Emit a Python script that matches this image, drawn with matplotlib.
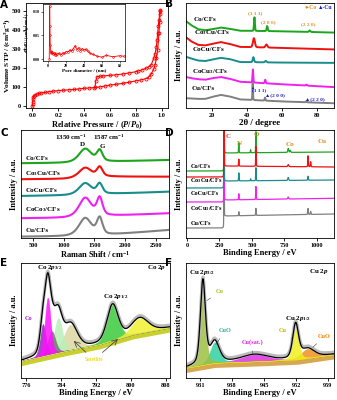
import numpy as np
import matplotlib
matplotlib.use('Agg')
import matplotlib.pyplot as plt

plt.rcParams['font.family'] = ['Liberation Serif', 'DejaVu Sans']
plt.rcParams['font.weight'] = 'bold'
plt.rcParams['axes.labelweight'] = 'bold'
plt.rcParams['mathtext.fontset'] = 'custom'
plt.rcParams['mathtext.rm'] = 'Liberation Serif:bold'
plt.rcParams['mathtext.it'] = 'Liberation Serif:italic:bold'
plt.rcParams['mathtext.bf'] = 'Liberation Serif:bold'
plt.rcParams['axes.linewidth'] = 0.6

# ---------------- data ----------------
samples = ['Co/CFs', 'Co$_3$Cu/CFs', 'CoCu/CFs', 'CoCu$_3$/CFs', 'Cu/CFs']
raman_labels = ['Co/CFs', 'Co$_3$Cu/CFs', 'CoCu/CFs', 'CoCo$_3$/CFs', 'Cu/CFs']
colors = ['#1DA51D', '#F01010', '#1A8C8C', '#F020F0', '#808080']

# A: N2 isotherm
p_ads = [0.0, 0.001, 0.002, 0.004, 0.007, 0.01, 0.02, 0.035, 0.05, 0.07, 0.1, 0.13, 0.16, 0.2,
         0.24, 0.28, 0.32, 0.36, 0.4, 0.44, 0.48, 0.52, 0.56, 0.6, 0.65, 0.7, 0.75, 0.8, 0.84,
         0.88, 0.9, 0.92, 0.94, 0.95, 0.96, 0.97, 0.98, 0.985, 0.99]
v_ads = [0, 10, 22, 35, 47, 55, 60, 63, 66, 69, 72, 75, 78, 81, 83, 85, 87, 90, 93, 95, 97,
         100, 105, 110, 114, 119, 125, 132, 137, 144, 152, 168, 195, 216, 250, 295, 382, 440, 500]
p_des = [0.99, 0.985, 0.98, 0.975, 0.97, 0.965, 0.96, 0.95, 0.94, 0.92, 0.9, 0.88, 0.85, 0.82,
         0.8, 0.75, 0.7, 0.65, 0.6, 0.55, 0.52, 0.5, 0.49, 0.485]
v_des = [505, 480, 452, 420, 382, 345, 312, 275, 251, 216, 205, 198, 190, 184, 180, 174, 168,
         164, 161, 158, 156, 154, 130, 100]
pore_d = [1.0, 1.3, 1.5, 1.8, 2.1, 2.6, 3.0, 3.5, 4, 5, 6, 7, 8, 9, 10, 12, 14, 16, 18, 20, 22,
          24, 26, 28, 30, 32, 34, 36, 38, 40, 42, 44, 47, 50, 55, 60, 65, 72, 80, 85]
pore_v = [0.0, 0.05, 0.112, 0.07, 0.03, 0.018, 0.014, 0.012, 0.016, 0.010, 0.013, 0.009, 0.012,
          0.008, 0.011, 0.012, 0.009, 0.013, 0.012, 0.016, 0.015, 0.019, 0.017, 0.022, 0.028,
          0.020, 0.024, 0.018, 0.022, 0.019, 0.021, 0.017, 0.012, 0.010, 0.006, 0.004, 0.008,
          0.005, 0.007, 0.006]

# B: XRD (baseline points and peaks: position, height, fwhm)
xrd_base_x = [5, 8, 12, 16, 20, 25, 30, 36, 60, 90]
xrd_base = [
    [86, 82, 78, 77, 78, 79.7, 78.5, 76.5, 76, 74.7],
    [70, 66, 62.5, 62, 63.5, 65.3, 63.5, 60.5, 59.5, 58],
    [50.7, 49, 47, 46.5, 48, 49.7, 48.5, 45.5, 45, 44.7],
    [30.7, 29.5, 28.5, 28, 29.5, 30.7, 29, 26, 23.5, 20.7],
    [9.7, 9.5, 9, 9, 11, 13, 11.5, 8.5, 6.5, 4.7],
]
xrd_peaks = [
    [(44.3, 13.5, 0.6), (51.6, 5, 0.7), (76.0, 1.5, 0.9)],
    [(44.0, 9, 1.3), (51.2, 3, 1.3)],
    [(43.7, 5, 0.9), (50.8, 1.5, 1.0)],
    [(43.4, 13, 0.5), (50.5, 3.5, 0.6), (74.2, 1, 0.8)],
    [(43.3, 17, 0.4), (50.4, 3, 0.5), (74.1, 1, 0.7)],
]

# C: Raman (baseline at x points, D and G amplitudes)
raman_base_x = [300, 1000, 1700, 2720]
raman_base = [
    [74.7, 75, 76.3, 78],
    [58.7, 59, 61.3, 61.3],
    [42, 42.5, 44, 46.3],
    [19.7, 20, 22, 24.7],
    [1.3, 1.6, 3, 8],
]
raman_D = [13.5, 10, 11.5, 19, 17.5]
raman_G = [11, 9.5, 10, 17.5, 16.5]
raman_pos = [1350, 1587]

# D: XPS survey
xps_left = [67, 61, 50, 36, 10]
xps_after = [85, 72, 57, 38, 22]
xps_right = [86, 71, 58, 39.7, 24]
xps_peaks = [
    [(399, 10, 4), (531, 21, 4), (490, 3, 4), (780, 4, 8), (796, 2, 8)],
    [(399, 7, 4), (531, 20, 4), (780, 2, 8), (933, 11, 5), (953, 5, 5)],
    [(399, 8, 4), (531, 13, 4), (490, 2, 4), (780, 3, 8), (933, 4, 5)],
    [(399, 6, 4), (531, 13, 4), (780, 2, 8)],
    [(399, 4, 4), (531, 7, 4), (933, 6, 5), (953, 3, 5)],
]

# E: Co 2p
e_base_x = [774.9, 785.2, 792.9, 800.5, 808.9]
e_base_y = [14.7, 23.5, 29.4, 38, 44]
e_comp = [(779.9, 28, 1.5), (781.0, 50, 1.5), (781.9, 20, 2.0), (783.4, 30, 2.2),
          (786.2, 22, 3.6), (795.8, 31, 3.0), (802.0, 13, 4.5)]
e_colors = ['#A020C0', '#FF10FF', '#6B7B6B', '#B8F0B8', '#DCD8A0', '#3CCB3C', '#F2F230']

# F: Cu 2p
f_base_x = [927.9, 934.3, 945.2, 952.4, 960.3]
f_base_y = [8.8, 13.2, 14.7, 16, 20.6]
f_comp = [(931.6, 73, 1.3), (934.2, 18, 2.4), (943.0, 6, 7), (951.9, 30, 1.5), (954.5, 8, 3.5)]
f_colors = ['#9CC040', '#30D0A0', '#E030E0', '#F0F020', '#F09020']


def pv(x, c, h, w, eta=0.35):
    g = np.exp(-4 * np.log(2) * ((x - c) / w) ** 2)
    l = 1 / (1 + (2 * (x - c) / w) ** 2)
    return h * (eta * l + (1 - eta) * g)


fig = plt.figure(figsize=(3.37, 4.0), dpi=100)


def rect(l, t, r, b):
    return [l / 337, 1 - b / 400, (r - l) / 337, (b - t) / 400]


TS = 4.5
LS = 6


def style(ax):
    ax.tick_params(direction='out', length=2, width=0.6, labelsize=TS, pad=1.5)
    for lab in ax.get_xticklabels() + ax.get_yticklabels():
        lab.set_fontweight('bold')


# ---------- A ----------
axA = fig.add_axes(rect(26, 3, 168, 108))
axA.plot(p_ads, v_ads, '-o', color='#FF0000', lw=0.8, ms=2.2, mfc='none', mec='#FF0000', mew=0.6)
axA.plot(p_des, v_des, '-o', color='#FF0000', lw=0.8, ms=2.2, mfc='none', mec='#FF0000', mew=0.6)
axA.set_xlim(-0.05, 1.05)
axA.set_ylim(-10, 540)
axA.set_xticks([0, 0.2, 0.4, 0.6, 0.8, 1.0])
axA.set_yticks([0, 100, 200, 300, 400, 500])
axA.set_xlabel('Relative Pressure / ($P/P_0$)', fontsize=LS, labelpad=1)
axA.set_ylabel('Volume STP / (cm$^3$g$^{-1}$)', fontsize=5.4)
axA.yaxis.set_label_coords(-0.098, 0.5)
style(axA)

axI = fig.add_axes(rect(43, 4, 125, 61))
axI.plot(pore_d, pore_v, '-o', color='#FF0000', lw=0.6, ms=1.3, mfc='none', mec='#FF0000', mew=0.4)
axI.set_xlim(-6, 86)
axI.set_ylim(-0.004, 0.116)
axI.set_xticks([0, 20, 40, 60, 80])
axI.set_yticks([0.0, 0.05, 0.10])
axI.set_yticklabels(['0.00', '0.05', '0.10'])
axI.tick_params(direction='out', length=1.2, width=0.4, labelsize=3, pad=0.8)
axI.set_xlabel('Pore diameter / (nm)', fontsize=3.6, labelpad=0.5)
axI.set_ylabel('dV/dD / (cm$^3$g$^{-1}$nm$^{-1}$)', fontsize=3, labelpad=0.5)
for s in axI.spines.values():
    s.set_linewidth(0.5)

# ---------- B ----------
axB = fig.add_axes(rect(186, 3, 334, 108))
xb = np.linspace(5, 90, 1500)
for i in range(5):
    y = np.interp(xb, xrd_base_x, xrd_base[i])
    for c, h, w in xrd_peaks[i]:
        y = y + pv(xb, c, h, w, 0.2)
    axB.plot(xb, y, color=colors[i], lw=1.4)
axB.set_xlim(5, 90)
axB.set_ylim(0, 104)
axB.set_xticks([20, 40, 60, 80])
axB.set_yticks([])
axB.set_xlabel('2θ / degree', fontsize=LS + 0.5, labelpad=1)
axB.set_ylabel('Intensity / a.u.', fontsize=LS, labelpad=2)
style(axB)
b_lab_xy = [(15.9, 87.3), (19.8, 74.7), (17.8, 58), (18.8, 36.3), (14.9, 19.7)]
for (x, y), t in zip(b_lab_xy, samples):
    axB.text(x, y, t, fontsize=5, ha='center', va='center')
orange = '#E08A1E'
blue = '#1818C8'
axB.text(44.6, 94, '(1 1 1)', fontsize=3.8, color=orange, ha='center', va='center')
axB.text(52.3, 85.3, '(2 0 0)', fontsize=3.8, color=orange, ha='center', va='center')
axB.text(75.2, 83, '(2 2 0)', fontsize=3.8, color=orange, ha='center', va='center')
axB.text(76.5, 99.5, '●-Co', fontsize=4, color=orange, ha='center', va='center')
axB.text(85, 99.5, '▲-Cu', fontsize=4, color=blue, ha='center', va='center')
axB.text(43.3, 20, '▲', fontsize=3, color=blue, ha='center', va='center')
axB.text(47.3, 17.5, '(1 1 1)', fontsize=3.8, color=blue, ha='center', va='center')
axB.text(50.5, 12.3, '▲(2 0 0)', fontsize=3.8, color=blue, ha='left', va='center')
axB.text(73.6, 9, '▲(2 2 0)', fontsize=3.8, color=blue, ha='left', va='center')

# ---------- C ----------
axC = fig.add_axes(rect(21, 130, 169, 238))
xc = np.linspace(300, 2720, 1000)
for i in range(5):
    y = np.interp(xc, raman_base_x, raman_base[i])
    y = y + pv(xc, raman_pos[0], raman_D[i], 240, 0.5) + pv(xc, raman_pos[1], raman_G[i], 110, 0.5)
    axC.plot(xc, y, color=colors[i], lw=1.5)
axC.set_xlim(300, 2720)
axC.set_ylim(0, 108)
axC.set_xticks([500, 1000, 1500, 2000, 2500])
axC.set_yticks([])
axC.set_xlabel('Raman Shift / cm$^{-1}$', fontsize=LS, labelpad=1)
axC.set_ylabel('Intensity / a.u.', fontsize=LS, labelpad=2)
style(axC)
c_lab_y = [80, 64.7, 47, 28, 7.3]
for y, t in zip(c_lab_y, raman_labels):
    axC.text(370, y, t, fontsize=5, ha='left', va='center')
axC.text(1123, 100.7, '1350 cm$^{-1}$', fontsize=5, ha='center', va='center')
axC.text(1745, 100.7, '1587 cm$^{-1}$', fontsize=5, ha='center', va='center')
axC.text(1302, 93, 'D', fontsize=5, ha='center', va='center')
axC.text(1636, 92, 'G', fontsize=5, ha='center', va='center')

# ---------- D ----------
axD = fig.add_axes(rect(186, 130, 334, 238))
xd = np.linspace(-8, 1133, 3000)
for i in [4, 3, 2, 0, 1]:
    y = np.where(xd < 283, xps_left[i], np.interp(xd, [283, 1133], [xps_after[i], xps_right[i]]))
    y = y + pv(xd, 285, 90, 3, 0.2)
    for c, h, w in xps_peaks[i]:
        y = y + pv(xd, c, h, w, 0.2)
    axD.plot(xd, y, color=colors[i], lw=0.9)
axD.set_xlim(-8, 1133)
axD.set_ylim(0, 108)
axD.set_xticks([0, 250, 500, 750, 1000])
axD.set_yticks([])
axD.set_xlabel('Binding Energy / eV', fontsize=LS, labelpad=1)
axD.set_ylabel('Intensity / a.u.', fontsize=LS, labelpad=2)
style(axD)
d_lab_y = [71.7, 57, 44.5, 29, 14.7]
for y, t in zip(d_lab_y, samples):
    axD.text(25, y, t, fontsize=4.5, ha='left', va='center')
axD.text(315, 101.3, 'C', fontsize=5, color='#E04020', ha='center', va='center')
axD.text(402, 94.7, 'N', fontsize=5, color=orange, ha='center', va='center')
axD.text(531, 103, 'O', fontsize=5, color=orange, ha='center', va='center')
axD.text(795, 94, 'Co', fontsize=5, color=orange, ha='center', va='center')
axD.text(1038, 96.3, 'Cu', fontsize=5, color=orange, ha='center', va='center')

# ---------- E ----------
axE = fig.add_axes(rect(21, 263, 170, 378))
xe = np.linspace(774.9, 808.9, 1200)
be = np.interp(xe, e_base_x, e_base_y)
axE.fill_between(xe, be - 4, be, color='#C8D030', lw=0)
env = be.copy()
order = [4, 3, 2, 0, 1, 5, 6]
for k in order:
    c, h, w = e_comp[k]
    comp = pv(xe, c, h, w, 0.3)
    axE.fill_between(xe, be, be + comp, color=e_colors[k], alpha=0.85, lw=0.3, edgecolor=e_colors[k])
for c, h, w in e_comp:
    env = env + pv(xe, c, h, w, 0.3)
axE.plot(xe, env + 1.5, color='#BBBBBB', lw=2.2)
axE.plot(xe, env, color='black', lw=0.9)
axE.set_xlim(774.9, 808.9)
axE.set_ylim(0, 100)
axE.set_xticks([776, 784, 792, 800, 808])
axE.set_yticks([])
axE.set_xlabel('Binding Energy / eV', fontsize=LS, labelpad=1)
axE.set_ylabel('Intensity / a.u.', fontsize=LS, labelpad=2)
style(axE)
axE.text(781.5, 96, 'Co 2$p_{3/2}$', fontsize=5, ha='center', va='center')
axE.text(805.9, 96, 'Co 2$p$', fontsize=5, ha='center', va='center')
axE.text(796.4, 71, 'Co 2$p_{1/2}$', fontsize=5, ha='center', va='center')
axE.text(776.6, 52, 'Co', fontsize=4.5, color='#A020C0', ha='center', va='center')
axE.text(791.5, 16, 'Satellite', fontsize=4, color='#E8E020', ha='center', va='center')
axE.annotate('', xy=(786.5, 33.8), xytext=(790.2, 20.6),
             arrowprops=dict(arrowstyle='->', color='#333333', lw=0.5))
axE.annotate('', xy=(797.5, 35.5), xytext=(793.0, 20.6),
             arrowprops=dict(arrowstyle='->', color='#333333', lw=0.5))

# ---------- F ----------
axF = fig.add_axes(rect(186, 263, 334, 378))
xf = np.linspace(927.9, 960.3, 1200)
bf = np.interp(xf, f_base_x, f_base_y)
axF.fill_between(xf, bf - 4, bf, color='#D8A850', lw=0)
envf = bf.copy()
for k in [2, 1, 0, 4, 3]:
    c, h, w = f_comp[k]
    comp = pv(xf, c, h, w, 0.4)
    axF.fill_between(xf, bf, bf + comp, color=f_colors[k], alpha=0.85, lw=0.3, edgecolor=f_colors[k])
for c, h, w in f_comp:
    envf = envf + pv(xf, c, h, w, 0.4)
axF.plot(xf, envf + 1.5, color='#BBBBBB', lw=2.2)
axF.plot(xf, envf, color='black', lw=0.9)
axF.set_xlim(927.9, 960.3)
axF.set_ylim(0, 100)
axF.set_xticks([931, 938, 945, 952, 959])
axF.set_yticks([])
axF.set_xlabel('Binding Energy / eV', fontsize=LS, labelpad=1)
axF.set_ylabel('Intensity / a.u.', fontsize=LS, labelpad=2)
style(axF)
axF.text(931.4, 92, 'Cu 2$p_{3/2}$', fontsize=5, ha='center', va='center')
axF.text(957, 92.6, 'Cu 2$p$', fontsize=5, ha='center', va='center')
axF.text(952.3, 51.5, 'Cu 2$p_{1/2}$', fontsize=5, ha='center', va='center')
arr = dict(arrowstyle='-', color='#444444', lw=0.4)
axF.annotate('Cu', xy=(932.0, 66), xytext=(935.3, 75), fontsize=4.5, color='#A8C030',
             ha='center', va='center', arrowprops=arr)
axF.annotate('CuO', xy=(934.1, 27), xytext=(936.4, 41), fontsize=4.5, color='#30B090',
             ha='center', va='center', arrowprops=arr)
axF.annotate('Cu(sat.)', xy=(942.5, 19), xytext=(942.5, 31), fontsize=4.5, color='#E020E0',
             ha='center', va='center', arrowprops=arr)
axF.annotate('Cu', xy=(951.2, 34), xytext=(949.0, 41), fontsize=4.5, color='#C8B000',
             ha='center', va='center', arrowprops=arr)
axF.annotate('CuO', xy=(955.2, 25), xytext=(958.2, 36), fontsize=4.5, color='#F08000',
             ha='center', va='center', arrowprops=arr)

# panel letters
for lbl, (x, y) in zip('ABCDEF', [(4, 5), (169, 4), (4, 133), (169, 133), (4, 263), (169, 263)]):
    fig.text(x / 337, 1 - y / 400, lbl, fontsize=7.5, fontweight='bold', family='DejaVu Sans',
             ha='center', va='center')

fig.savefig('out.png', dpi=100)
